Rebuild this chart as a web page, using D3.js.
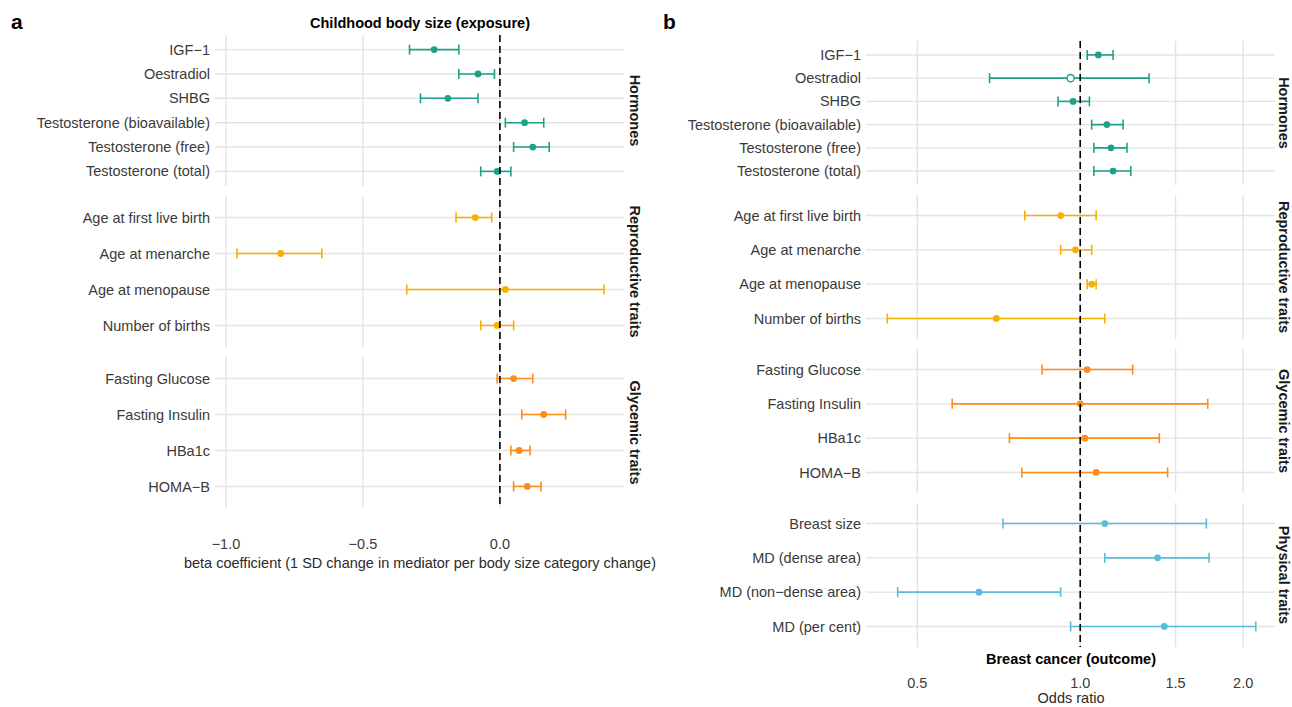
<!DOCTYPE html>
<html>
<head>
<meta charset="utf-8">
<script src="https://cdn.jsdelivr.net/npm/d3@7"></script>
<style>
  body { margin: 0; background: #fff; }
  svg { font-family: "Liberation Sans", Arial, sans-serif; }
</style>
</head>
<body>
<div id="chart"></div>
<script>
// panel a: childhood body size -> mediators (beta)
const groupsA = ["Hormones", "Reproductive traits", "Glycemic traits"];
const traitsA = [
  "IGF\u22121", "Oestradiol", "SHBG", "Testosterone (bioavailable)", "Testosterone (free)", "Testosterone (total)",
  "Age at first live birth", "Age at menarche", "Age at menopause", "Number of births",
  "Fasting Glucose", "Fasting Insulin", "HBa1c", "HOMA\u2212B"
];
const groupOfA = [0, 0, 0, 0, 0, 0, 1, 1, 1, 1, 2, 2, 2, 2];
const betaA = [-0.24, -0.08, -0.19, 0.09, 0.12, -0.01, -0.09, -0.80, 0.02, -0.01, 0.05, 0.16, 0.07, 0.10];
const lowA  = [-0.33, -0.15, -0.29, 0.02, 0.05, -0.07, -0.16, -0.96, -0.34, -0.07, -0.01, 0.08, 0.04, 0.05];
const highA = [-0.15, -0.02, -0.08, 0.16, 0.18, 0.04, -0.03, -0.65, 0.38, 0.05, 0.12, 0.24, 0.11, 0.15];
const ticksA = [-1.0, -0.5, 0.0];

// panel b: mediators -> breast cancer (odds ratio)
const groupsB = ["Hormones", "Reproductive traits", "Glycemic traits", "Physical traits"];
const traitsB = [
  "IGF\u22121", "Oestradiol", "SHBG", "Testosterone (bioavailable)", "Testosterone (free)", "Testosterone (total)",
  "Age at first live birth", "Age at menarche", "Age at menopause", "Number of births",
  "Fasting Glucose", "Fasting Insulin", "HBa1c", "HOMA\u2212B",
  "Breast size", "MD (dense area)", "MD (non\u2212dense area)", "MD (per cent)"
];
const groupOfB = [0, 0, 0, 0, 0, 0, 1, 1, 1, 1, 2, 2, 2, 2, 3, 3, 3, 3];
const orB   = [1.08, 0.96, 0.97, 1.12, 1.14, 1.15, 0.92, 0.98, 1.05, 0.70, 1.03, 1.00, 1.02, 1.07, 1.11, 1.39, 0.65, 1.43];
const lowB  = [1.03, 0.68, 0.91, 1.05, 1.06, 1.06, 0.79, 0.92, 1.03, 0.44, 0.85, 0.58, 0.74, 0.78, 0.72, 1.11, 0.46, 0.96];
const highB = [1.15, 1.34, 1.04, 1.20, 1.22, 1.24, 1.07, 1.05, 1.07, 1.11, 1.25, 1.72, 1.40, 1.45, 1.71, 1.73, 0.92, 2.11];
const solidB = [1, 0, 1, 1, 1, 1, 1, 1, 1, 1, 1, 1, 1, 1, 1, 1, 1, 1];
const ticksB = [0.5, 1.0, 1.5, 2.0];

const groupColors = {
  "Hormones": "#1ea186",
  "Reproductive traits": "#f6b000",
  "Glycemic traits": "#ff8b1a",
  "Physical traits": "#59bcda"
};

const fontSize = 14.5;

const svg = d3.select("#chart")
  .append("svg")
  .attr("width", 1292)
  .attr("height", 707);

function drawForest(opts) {
  const {
    groups, traits, groupOf, est, low, high, solid, ticks,
    xScale, top, facetH, gap, tickFormat, stripX
  } = opts;

  const g = svg.append("g");
  const [x0, x1] = xScale.range();
  const bottom = top + groups.length * facetH + (groups.length - 1) * gap;

  groups.forEach((grp, gi) => {
    const fTop = top + gi * (facetH + gap);
    const rows = traits.filter((t, i) => groupOf[i] === gi);
    const yScale = d3.scalePoint().domain(rows).range([fTop, fTop + facetH]).padding(0.6);

    // gridlines
    g.append("g").selectAll("line.v")
      .data(ticks)
      .join("line")
      .attr("x1", (d) => xScale(d)).attr("x2", (d) => xScale(d))
      .attr("y1", fTop).attr("y2", fTop + facetH)
      .attr("stroke", "#e3e3e3").attr("stroke-width", 1.4);

    g.append("g").selectAll("line.h")
      .data(rows)
      .join("line")
      .attr("x1", x0).attr("x2", x1)
      .attr("y1", (d) => yScale(d)).attr("y2", (d) => yScale(d))
      .attr("stroke", "#e3e3e3").attr("stroke-width", 1.4);

    // row labels
    g.append("g").selectAll("text")
      .data(rows)
      .join("text")
      .attr("x", x0 - 5)
      .attr("y", (d) => yScale(d))
      .attr("dy", "0.35em")
      .attr("text-anchor", "end")
      .attr("font-size", fontSize)
      .attr("fill", "#3a3a3a")
      .text((d) => d);

    // strip label
    g.append("text")
      .attr("transform", `translate(${stripX},${fTop + facetH / 2}) rotate(90)`)
      .attr("text-anchor", "middle")
      .attr("dy", "0.35em")
      .attr("font-size", fontSize)
      .attr("font-weight", "bold")
      .attr("fill", "#1a1a1a")
      .text(grp);

    const idx = traits.map((t, i) => i).filter((i) => groupOf[i] === gi);
    const col = groupColors[grp];

    // error bars
    const eb = g.append("g").selectAll("g")
      .data(idx)
      .join("g")
      .attr("stroke", col)
      .attr("stroke-width", 1.6);
    eb.append("line")
      .attr("x1", (i) => xScale(low[i])).attr("x2", (i) => xScale(high[i]))
      .attr("y1", (i) => yScale(traits[i])).attr("y2", (i) => yScale(traits[i]));
    [low, high].forEach((arr) => {
      eb.append("line")
        .attr("x1", (i) => xScale(arr[i])).attr("x2", (i) => xScale(arr[i]))
        .attr("y1", (i) => yScale(traits[i]) - 5).attr("y2", (i) => yScale(traits[i]) + 5);
    });

    // points
    g.append("g").selectAll("circle")
      .data(idx)
      .join("circle")
      .attr("cx", (i) => xScale(est[i]))
      .attr("cy", (i) => yScale(traits[i]))
      .attr("r", (i) => (solid && !solid[i] ? 3.6 : 3.4))
      .attr("fill", (i) => (solid && !solid[i] ? "#fff" : col))
      .attr("stroke", col)
      .attr("stroke-width", (i) => (solid && !solid[i] ? 1.4 : 0));
  });

  // reference line
  const ref = xScale.domain()[0] < 0 ? 0 : 1;
  g.append("line")
    .attr("x1", xScale(ref)).attr("x2", xScale(ref))
    .attr("y1", top).attr("y2", bottom)
    .attr("stroke", "#000")
    .attr("stroke-width", 1.6)
    .attr("stroke-dasharray", "7,4");

  // tick labels
  g.append("g").selectAll("text")
    .data(ticks)
    .join("text")
    .attr("x", (d) => xScale(d))
    .attr("y", opts.tickY)
    .attr("dy", "0.35em")
    .attr("text-anchor", "middle")
    .attr("font-size", fontSize)
    .attr("fill", "#3a3a3a")
    .text(tickFormat);

  return g;
}

// panel a
const xA = d3.scaleLinear().domain([-1.04, 0.453]).range([215, 624]);
drawForest({
  groups: groupsA, traits: traitsA, groupOf: groupOfA,
  est: betaA, low: lowA, high: highA, solid: null, ticks: ticksA,
  xScale: xA, top: 35, facetH: 151, gap: 10, tickY: 544,
  tickFormat: d3.format(".1f"), stripX: 635
});

// panel b
const xB = d3.scaleLog().base(2).domain([0.402, 2.29]).range([866, 1275]);
drawForest({
  groups: groupsB, traits: traitsB, groupOf: groupOfB,
  est: orB, low: lowB, high: highB, solid: solidB, ticks: ticksB,
  xScale: xB, top: 41, facetH: 144, gap: 10, tickY: 683,
  tickFormat: d3.format(".1f"), stripX: 1284
});

// titles and labels
svg.append("text").attr("x", 11).attr("y", 29)
  .attr("font-size", 21).attr("font-weight", "bold").text("a");
svg.append("text").attr("x", 663).attr("y", 29)
  .attr("font-size", 21).attr("font-weight", "bold").text("b");

svg.append("text")
  .attr("x", 420).attr("y", 23).attr("dy", "0.35em")
  .attr("text-anchor", "middle")
  .attr("font-size", 14.5).attr("font-weight", "bold")
  .text("Childhood body size (exposure)");

svg.append("text")
  .attr("x", 420).attr("y", 563).attr("dy", "0.35em")
  .attr("text-anchor", "middle")
  .attr("font-size", fontSize).attr("fill", "#2a2a2a")
  .text("beta coefficient (1 SD change in mediator per body size category change)");

svg.append("text")
  .attr("x", 1071).attr("y", 659).attr("dy", "0.35em")
  .attr("text-anchor", "middle")
  .attr("font-size", 14.5).attr("font-weight", "bold")
  .text("Breast cancer (outcome)");

svg.append("text")
  .attr("x", 1071).attr("y", 698).attr("dy", "0.35em")
  .attr("text-anchor", "middle")
  .attr("font-size", fontSize).attr("fill", "#2a2a2a")
  .text("Odds ratio");
</script>
</body>
</html>
